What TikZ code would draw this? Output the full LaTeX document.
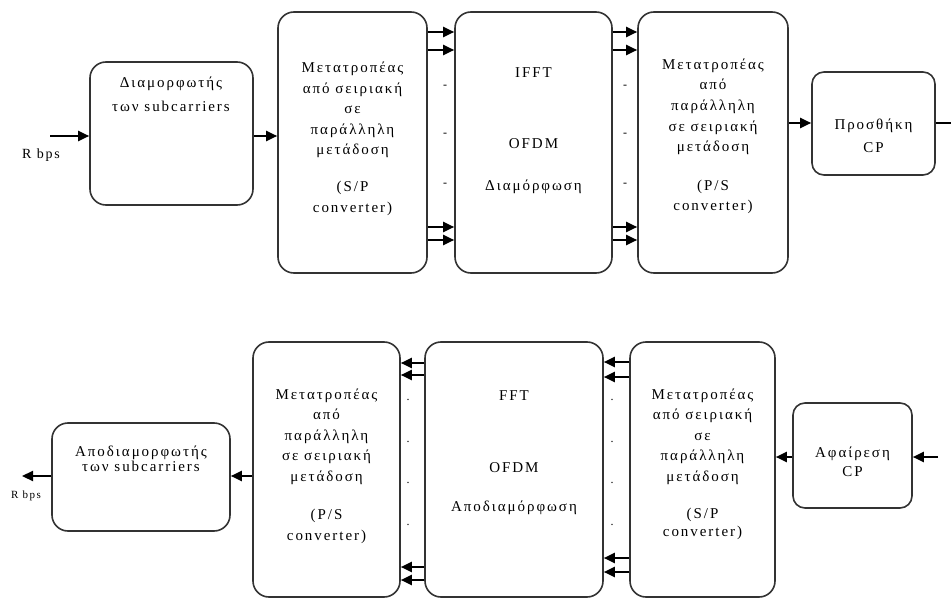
\documentclass[tikz,border=0pt]{standalone}
\usepackage{fontspec}
\setmainfont{Liberation Serif}[LetterSpace=13]
\usetikzlibrary{arrows.meta}

\begin{document}
\begin{tikzpicture}[x=1pt,y=-1pt,
  blk/.style={draw=black!80, line width=1.6pt, rounded corners=16pt, inner sep=0pt},
  sblk/.style={blk, rounded corners=12pt},
  % multi-line labels: placed by the baseline of their last line
  lbl/.style={align=center, inner sep=0pt, anchor=base,
    font=\fontsize{15}{20.5}\selectfont},
  arr/.style={line width=2.2pt, -{Triangle[length=11pt,width=10pt]}},
  gapmark/.style={inner sep=0pt, font=\fontsize{12}{12}\selectfont}
]
\useasboundingbox (0,0) rectangle (951,599);

% ---------------- transmitter ----------------
\node[blk, minimum width=163pt, minimum height=143pt] (mod)  at (171.5,133.5) {};
\node[blk, minimum width=149pt, minimum height=261pt] (sp)   at (352.5,142.5) {};
\node[blk, minimum width=157pt, minimum height=261pt] (ifft) at (533.5,142.5) {};
\node[blk, minimum width=150pt, minimum height=261pt] (ps)   at (713,142.5) {};
\node[sblk, minimum width=123pt, minimum height=103pt] (cp)  at (873.5,123.5) {};

\node[lbl] (tmod) at (171,111.5) {Διαμορφωτής\\[3.5pt]των subcarriers};
\node[lbl] (tsp) at (352.5,212)
  {Μετατροπέας\\από σειριακή\\σε\\παράλληλη\\μετάδοση\\[16.5pt](S/P\\converter)};
\node[lbl] (tifft) at (533.5,190) {IFFT\\[50.5pt]OFDM\\[21.5pt]Διαμόρφωση};
\node[lbl] (tps) at (713,210.5)
  {Μετατροπέας\\από\\παράλληλη\\σε σειριακή\\μετάδοση\\[18pt](P/S\\converter)};
\node[lbl] (tcp) at (873.5,152.5) {Προσθήκη\\[2.5pt]CP};
\node[lbl, font=\fontsize{14}{14}\selectfont] (rin) at (41,159) {R bps};

\coordinate (yin) at (0,136);
\coordinate (yout) at (0,123);
\coordinate (ya) at (0,32);
\coordinate (yb) at (0,50);
\coordinate (yc) at (0,227);
\coordinate (yd) at (0,240);
\coordinate (src) at (50,136);
\coordinate (sink) at (964,123);

\draw[arr] (src) -- (mod.west |- yin);
\draw[arr] (mod.east |- yin) -- (sp.west |- yin);
\foreach \r in {ya,yb,yc,yd}{
  \draw[arr] (sp.east |- \r) -- (ifft.west |- \r);
  \draw[arr] (ifft.east |- \r) -- (ps.west |- \r);
}
\draw[arr] (ps.east |- yout) -- (cp.west |- yout);
\draw[arr] (cp.east |- yout) -- (sink);

\foreach \yy [count=\i] in {87,135,185}{
  \node[gapmark] (da\i) at (445,\yy) {-};
  \node[gapmark] (db\i) at (625,\yy) {-};
}

% ---------------- receiver ----------------
\node[blk, minimum width=178pt, minimum height=108pt] (demod) at (141,477) {};
\node[blk, minimum width=147pt, minimum height=255pt] (ps2)   at (326.5,469.5) {};
\node[blk, minimum width=178pt, minimum height=255pt] (fft)   at (514,469.5) {};
\node[blk, minimum width=145pt, minimum height=255pt] (sp2)   at (702.5,469.5) {};
\node[sblk, minimum width=119pt, minimum height=105pt] (rcp)  at (852.5,455.5) {};

\node[lbl] (tdemod) at (141,471.5) {Αποδιαμορφωτής\\[-5pt]των subcarriers};
\node[lbl] (tps2) at (326.5,540)
  {Μετατροπέας\\από\\παράλληλη\\σε σειριακή\\μετάδοση\\[18pt](P/S\\converter)};
\node[lbl] (tfft) at (514,511.5) {FFT\\[52pt]OFDM\\[18.5pt]Αποδιαμόρφωση};
\node[lbl] (tsp2) at (702.5,536.5)
  {Μετατροπέας\\από σειριακή\\σε\\παράλληλη\\μετάδοση\\[17pt](S/P\\[-2.5pt]converter)};
\node[lbl] (trcp) at (852.5,476) {Αφαίρεση\\[-1.5pt]CP};
\node[lbl, font=\fontsize{11}{11}\selectfont] (rout) at (26,498) {R bps};

\coordinate (yr) at (0,457);
\coordinate (yl) at (0,476);
\coordinate (rsrc) at (938,457);
\coordinate (rsink) at (22,476);

\draw[arr] (rsrc) -- (rcp.east |- yr);
\draw[arr] (rcp.west |- yr) -- (sp2.east |- yr);
\foreach \yy in {362,377,558,572}{
  \coordinate (q) at (0,\yy);
  \draw[arr] (sp2.west |- q) -- (fft.east |- q);
}
\foreach \yy in {363,375,567,580}{
  \coordinate (q) at (0,\yy);
  \draw[arr] (fft.west |- q) -- (ps2.east |- q);
}
\draw[arr] (ps2.west |- yl) -- (demod.east |- yl);
\draw[arr] (demod.west |- yl) -- (rsink);

\foreach \yy [count=\i] in {400,442,483,525}{
  \node[gapmark] (dc\i) at (408,\yy) {.};
  \node[gapmark] (dd\i) at (612,\yy) {.};
}
\end{tikzpicture}
\end{document}
